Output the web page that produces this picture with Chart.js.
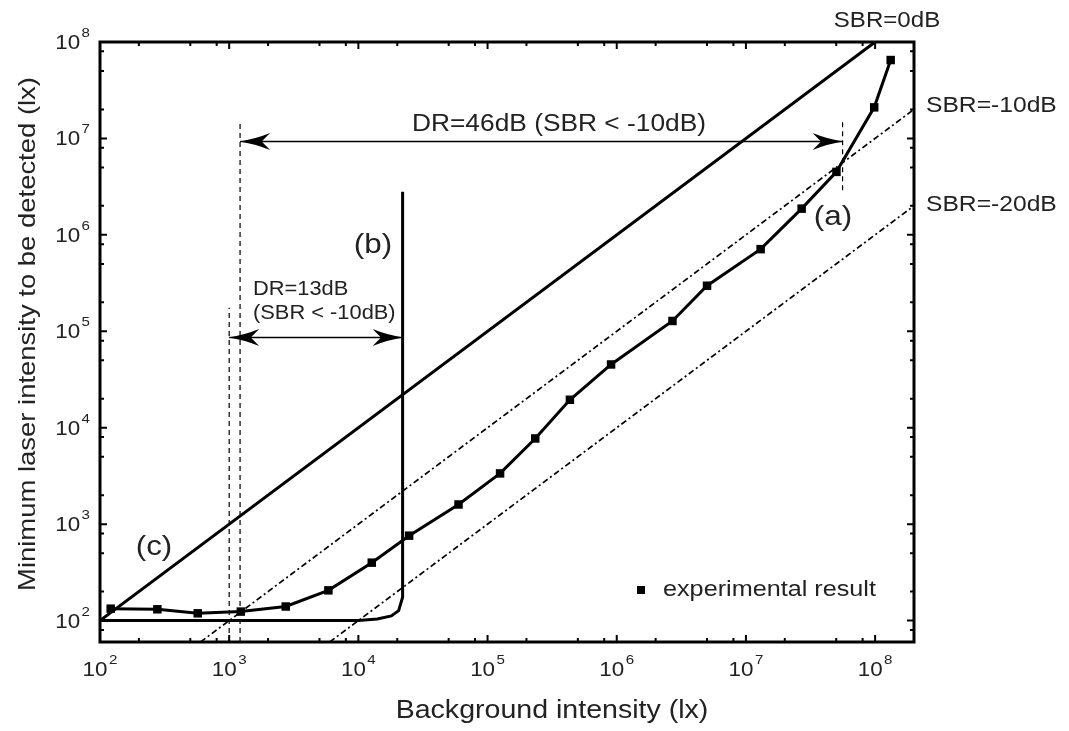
<!DOCTYPE html>
<html>
<head>
<meta charset="utf-8">
<script src="https://cdn.jsdelivr.net/npm/chart.js@4"></script>
<style>
  html, body { margin: 0; padding: 0; background: #fff; }
  #wrap { width: 1069px; height: 731px; }
</style>
</head>
<body>
<div id="wrap"><canvas id="chart" width="1069" height="731"></canvas></div>
<script>
// measured points (lx)
const bgIntensity = [121, 278, 571, 1230, 2740, 5860, 12700, 24700, 59600, 125000, 234000, 434000,
  904000, 2.70e6, 5.0e6, 1.30e7, 2.70e7, 5.02e7, 9.84e7, 1.32e8];
const minLaser = [133, 131, 119, 124, 140, 206, 399, 760, 1600, 3360, 7740, 19500,
  45300, 128000, 297000, 711000, 1.87e6, 4.50e6, 2.10e7, 6.50e7];

// curve (b)
const curveBX = [100, 10000, 14000, 18000, 20500, 22000, 22000];
const curveBY = [100, 100, 104, 112, 127, 175, 2.8e6];

// SBR reference lines, endpoints
const sbr0X = [100, 1e8];
const sbr0Y = [100, 1e8];
const sbr10X = [600, 2e8];
const sbr10Y = [60, 2e7];
const sbr20X = [6000, 2e8];
const sbr20Y = [60, 2e6];

// dynamic range markers
const dr46 = { x0: 1214, x1: 5.6e7, y: 9.3e6 };
const dr13 = { x0: 1000, x1: 22000, y: 8.6e4 };
const guideX = [1000, 1214, 5.6e7];
const guideTop = [1.75e5, 1.46e7, 1.62e7];
const guideBottom = [60, 60, 2.9e6];

const xDecades = [2, 3, 4, 5, 6, 7, 8];
const yDecades = [2, 3, 4, 5, 6, 7, 8];

const FONT = '"Liberation Sans", Arial, sans-serif';
const SX = 1.12;

function pairs(xs, ys) {
  return xs.map((x, i) => ({ x: x, y: ys[i] }));
}

function text(ctx, s, x, y, size, align, rot) {
  ctx.save();
  ctx.font = size + 'px ' + FONT;
  ctx.fillStyle = '#222';
  ctx.textBaseline = 'alphabetic';
  ctx.translate(x, y);
  if (rot) ctx.rotate(rot);
  ctx.scale(SX, 1);
  ctx.textAlign = align || 'left';
  ctx.fillText(s, 0, 0);
  ctx.restore();
}

function pow10Label(ctx, n, x, y, align) {
  ctx.save();
  ctx.font = '20px ' + FONT;
  const wBase = ctx.measureText('10').width * SX;
  ctx.font = '13.5px ' + FONT;
  const wSup = ctx.measureText(String(n)).width * SX;
  ctx.restore();
  const total = wBase + 1.5 + wSup;
  let left = x;
  if (align === 'center') left = x - total / 2;
  if (align === 'right') left = x - total;
  text(ctx, '10', left, y, 20, 'left');
  text(ctx, String(n), left + wBase + 1.5, y - 12, 13.5, 'left');
}

function arrowHead(ctx, x, y, dir) {
  const L = 30, W = 8.5;
  ctx.save();
  ctx.translate(x, y);
  ctx.scale(dir, 1);
  ctx.beginPath();
  ctx.moveTo(0, 0);
  ctx.quadraticCurveTo(L * 0.55, -W * 0.35, L, -W);
  ctx.lineTo(L * 0.72, 0);
  ctx.lineTo(L, W);
  ctx.quadraticCurveTo(L * 0.55, W * 0.35, 0, 0);
  ctx.closePath();
  ctx.fillStyle = '#000';
  ctx.fill();
  ctx.restore();
}

const decorations = {
  id: 'decorations',
  afterDatasetsDraw(chart) {
    const ctx = chart.ctx;
    const xs = chart.scales.x, ys = chart.scales.y;
    const a = chart.chartArea;

    // arrow heads
    const d46y = ys.getPixelForValue(dr46.y);
    arrowHead(ctx, xs.getPixelForValue(dr46.x0), d46y, 1);
    arrowHead(ctx, xs.getPixelForValue(dr46.x1), d46y, -1);
    const d13y = ys.getPixelForValue(dr13.y);
    arrowHead(ctx, xs.getPixelForValue(dr13.x0), d13y, 1);
    arrowHead(ctx, xs.getPixelForValue(dr13.x1), d13y, -1);

    // frame
    ctx.save();
    ctx.strokeStyle = '#000';
    ctx.lineWidth = 3;
    ctx.strokeRect(a.left, a.top, a.right - a.left, a.bottom - a.top);

    // ticks, inward on all sides
    ctx.lineWidth = 2;
    ctx.beginPath();
    const mults = [1, 2, 5, 8];
    for (let e = 1; e <= 9; e++) {
      mults.forEach(m => {
        const v = m * Math.pow(10, e);
        const len = m === 1 ? 7 : 4;
        if (v >= xs.min && v <= xs.max) {
          const px = xs.getPixelForValue(v);
          ctx.moveTo(px, a.bottom); ctx.lineTo(px, a.bottom - len);
          ctx.moveTo(px, a.top); ctx.lineTo(px, a.top + len);
        }
        if (v >= ys.min && v <= ys.max) {
          const py = ys.getPixelForValue(v);
          ctx.moveTo(a.left, py); ctx.lineTo(a.left + len, py);
          ctx.moveTo(a.right, py); ctx.lineTo(a.right - len, py);
        }
      });
    }
    ctx.stroke();
    ctx.restore();
  },
  afterDraw(chart) {
    const ctx = chart.ctx;
    const xs = chart.scales.x, ys = chart.scales.y;
    const a = chart.chartArea;

    xDecades.forEach(n => {
      pow10Label(ctx, n, xs.getPixelForValue(Math.pow(10, n)), a.bottom + 34, 'center');
    });
    yDecades.forEach(n => {
      pow10Label(ctx, n, a.left - 10, ys.getPixelForValue(Math.pow(10, n)) + 7, 'right');
    });

    text(ctx, 'Background intensity (lx)', 552, 718, 25.5, 'center');
    text(ctx, 'Minimum laser intensity to be detected (lx)', 35, 334, 24.5, 'center', -Math.PI / 2);

    text(ctx, 'SBR=0dB', 887, 27, 21.5, 'center');
    text(ctx, 'SBR=-10dB', 926, 112, 22, 'left');
    text(ctx, 'SBR=-20dB', 926, 211, 22, 'left');
    text(ctx, '(a)', 833, 225, 28, 'center');
    text(ctx, '(b)', 373, 253, 28, 'center');
    text(ctx, '(c)', 154, 555, 28, 'center');
    text(ctx, 'DR=46dB (SBR < -10dB)', 559, 131, 23.5, 'center');
    text(ctx, 'DR=13dB', 253, 295, 19.5, 'left');
    text(ctx, '(SBR < -10dB)', 253, 319, 19.5, 'left');

    // legend
    ctx.save();
    ctx.fillStyle = '#000';
    ctx.fillRect(637, 586, 8, 8);
    ctx.restore();
    text(ctx, 'experimental result', 663, 596, 22.5, 'left');
  }
};

const thinDash = { borderColor: '#000', borderWidth: 1.2, borderDash: [5, 4], pointRadius: 0, showLine: true, fill: false };

const datasets = [
  { label: 'SBR=0dB', data: pairs(sbr0X, sbr0Y), borderColor: '#000', borderWidth: 3, pointRadius: 0, showLine: true },
  { label: 'SBR=-10dB', data: pairs(sbr10X, sbr10Y), borderColor: '#000', borderWidth: 1.7, borderDash: [6, 3, 2, 3], pointRadius: 0, showLine: true },
  { label: 'SBR=-20dB', data: pairs(sbr20X, sbr20Y), borderColor: '#000', borderWidth: 1.7, borderDash: [6, 3, 2, 3], pointRadius: 0, showLine: true },
  { label: '(b)', data: pairs(curveBX, curveBY), borderColor: '#000', borderWidth: 3, pointRadius: 0, showLine: true },
  { label: 'DR46', data: [{ x: dr46.x0, y: dr46.y }, { x: dr46.x1, y: dr46.y }], borderColor: '#000', borderWidth: 1.5, pointRadius: 0, showLine: true },
  { label: 'DR13', data: [{ x: dr13.x0, y: dr13.y }, { x: dr13.x1, y: dr13.y }], borderColor: '#000', borderWidth: 1.5, pointRadius: 0, showLine: true }
];
guideX.forEach((gx, i) => {
  datasets.push(Object.assign({ label: 'guide' + i, data: [{ x: gx, y: guideBottom[i] }, { x: gx, y: guideTop[i] }] }, thinDash));
});
datasets.push({
  label: 'experimental result',
  data: pairs(bgIntensity, minLaser),
  borderColor: '#000', backgroundColor: '#000', borderWidth: 3,
  pointStyle: 'rect', pointRadius: 6, pointBorderWidth: 0,
  showLine: true
});

new Chart(document.getElementById('chart').getContext('2d'), {
  type: 'scatter',
  data: { datasets: datasets },
  options: {
    responsive: false,
    animation: false,
    devicePixelRatio: 1,
    layout: { padding: { left: 100, top: 42, right: 155, bottom: 89 } },
    plugins: { legend: { display: false }, tooltip: { enabled: false } },
    scales: {
      x: { type: 'logarithmic', min: 100, max: 2e8, display: false },
      y: { type: 'logarithmic', min: 60, max: 1e8, display: false }
    }
  },
  plugins: [decorations]
});
</script>
</body>
</html>
